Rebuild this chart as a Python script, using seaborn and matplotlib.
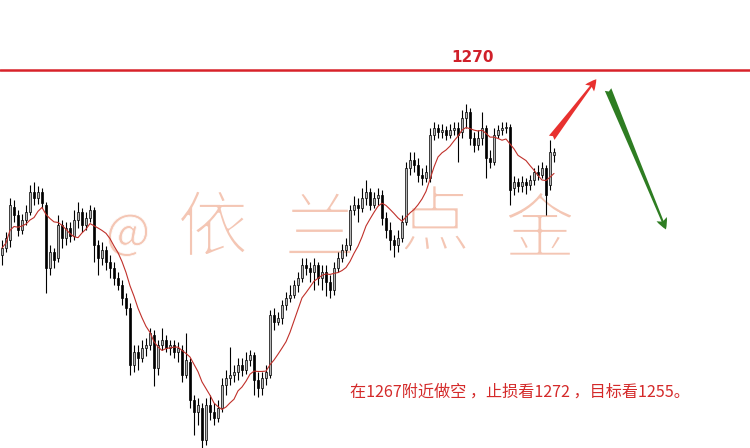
import numpy as np
import pandas as pd
import matplotlib
matplotlib.use('Agg')
import matplotlib.pyplot as plt
import matplotlib.patheffects as pe
import seaborn as sns

# candle data (price)
opens = [1251.5, 1252.2, 1253.0, 1256.3, 1255.5, 1254.0, 1255.0, 1255.8, 1257.8, 1257.2,
         1257.8, 1256.5, 1250.2, 1251.8, 1251.2, 1254.5, 1253.2, 1254.2, 1253.4, 1255.0,
         1255.8, 1254.5, 1255.2, 1256.0, 1252.5, 1251.2, 1252.0, 1250.8, 1250.2, 1249.2,
         1248.5, 1247.2, 1246.2, 1240.5, 1241.8, 1241.2, 1242.2, 1242.5, 1243.5, 1240.2,
         1242.5, 1243.0, 1242.2, 1242.5, 1241.8, 1242.0, 1239.5, 1240.8, 1237.0, 1235.8,
         1236.2, 1233.0, 1236.5, 1235.8, 1235.2, 1236.2, 1238.5, 1239.2, 1239.5, 1239.8,
         1240.5, 1240.0, 1241.0, 1241.5, 1239.0, 1238.2, 1239.2, 1239.5, 1245.5, 1244.8,
         1245.2, 1246.5, 1247.2, 1247.5, 1248.5, 1249.2, 1250.5, 1250.2, 1249.8, 1250.5,
         1249.2, 1249.8, 1248.8, 1248.0, 1250.2, 1251.2, 1252.0, 1252.5, 1256.0, 1256.5,
         1256.2, 1257.2, 1257.8, 1256.5, 1257.2, 1257.5, 1255.2, 1254.0, 1253.0, 1252.5,
         1253.2, 1254.8, 1260.2, 1261.0, 1260.5, 1259.5, 1259.2, 1259.2, 1263.5, 1264.2,
         1263.8, 1264.0, 1263.5, 1264.0, 1264.2, 1263.8, 1265.2, 1265.8, 1263.2, 1262.5,
         1263.2, 1264.2, 1261.2, 1260.8, 1263.5, 1264.0, 1264.2, 1264.3, 1258.2, 1258.8,
         1258.4, 1258.8, 1258.5, 1259.0, 1259.8, 1259.5, 1260.2, 1258.5, 1261.5]
highs = [1253.0, 1253.8, 1257.2, 1257.0, 1256.0, 1255.6, 1256.5, 1258.5, 1258.8, 1258.4,
         1258.2, 1256.8, 1252.5, 1252.2, 1255.5, 1255.0, 1254.8, 1254.8, 1256.0, 1256.8,
         1256.2, 1255.8, 1256.5, 1256.3, 1253.0, 1252.8, 1252.4, 1251.5, 1250.8, 1249.8,
         1249.0, 1247.7, 1246.7, 1242.5, 1242.5, 1243.0, 1243.2, 1244.2, 1244.0, 1243.0,
         1244.2, 1243.5, 1243.0, 1243.0, 1242.8, 1242.5, 1243.7, 1241.2, 1237.5, 1237.2,
         1236.7, 1237.2, 1237.5, 1236.7, 1237.0, 1239.2, 1240.0, 1242.3, 1240.5, 1241.2,
         1241.2, 1241.8, 1242.0, 1241.8, 1239.8, 1239.8, 1240.5, 1246.0, 1246.2, 1245.8,
         1247.0, 1247.8, 1248.5, 1249.0, 1249.8, 1251.2, 1251.2, 1250.8, 1251.2, 1250.8,
         1250.5, 1250.5, 1249.5, 1250.8, 1251.8, 1252.6, 1253.2, 1256.5, 1257.4, 1257.2,
         1258.2, 1259.0, 1258.2, 1257.8, 1258.2, 1258.0, 1255.8, 1254.8, 1253.5, 1254.0,
         1255.5, 1260.8, 1261.8, 1261.8, 1261.2, 1260.2, 1260.5, 1264.2, 1264.8, 1264.6,
         1264.6, 1264.4, 1264.6, 1264.8, 1264.8, 1266.0, 1266.6, 1266.2, 1263.8, 1264.0,
         1265.8, 1264.5, 1262.0, 1264.2, 1264.5, 1264.8, 1264.8, 1264.6, 1259.4, 1259.2,
         1259.4, 1259.2, 1259.5, 1260.2, 1260.5, 1260.8, 1260.5, 1263.0, 1262.2]
lows = [1250.5, 1251.8, 1252.3, 1254.8, 1253.4, 1253.6, 1254.5, 1255.5, 1256.5, 1256.6,
        1256.2, 1247.7, 1249.5, 1250.2, 1250.8, 1252.2, 1252.5, 1252.8, 1253.0, 1254.2,
        1253.8, 1254.0, 1254.8, 1250.8, 1249.5, 1250.5, 1250.0, 1249.2, 1248.5, 1248.0,
        1246.5, 1245.5, 1239.5, 1239.8, 1240.0, 1240.8, 1241.4, 1242.0, 1238.4, 1239.5,
        1242.0, 1241.8, 1241.5, 1241.2, 1240.8, 1238.8, 1239.2, 1236.2, 1233.5, 1234.5,
        1232.2, 1232.5, 1235.0, 1234.5, 1234.8, 1235.8, 1237.5, 1238.5, 1238.8, 1239.0,
        1239.4, 1239.6, 1240.4, 1237.5, 1237.3, 1237.5, 1238.5, 1239.2, 1244.0, 1244.5,
        1244.6, 1246.0, 1246.8, 1247.2, 1247.8, 1248.8, 1249.5, 1248.8, 1248.0, 1248.5,
        1248.0, 1247.4, 1247.2, 1247.5, 1249.8, 1250.8, 1251.4, 1252.0, 1255.5, 1254.8,
        1255.8, 1256.5, 1256.0, 1256.2, 1256.5, 1254.5, 1253.2, 1252.0, 1251.3, 1251.8,
        1252.8, 1254.5, 1259.5, 1259.8, 1258.8, 1258.5, 1258.8, 1258.8, 1263.0, 1263.2,
        1263.2, 1263.0, 1263.2, 1263.5, 1260.8, 1263.2, 1264.2, 1262.5, 1261.8, 1262.0,
        1262.5, 1259.2, 1260.2, 1260.5, 1263.2, 1263.5, 1263.7, 1256.5, 1257.5, 1257.8,
        1257.8, 1257.6, 1258.0, 1258.5, 1259.0, 1259.2, 1255.5, 1258.0, 1260.8]
closes = [1252.2, 1253.2, 1256.5, 1255.5, 1254.0, 1255.0, 1255.8, 1257.8, 1257.2, 1257.8,
          1256.7, 1250.2, 1251.8, 1251.0, 1254.5, 1253.2, 1254.2, 1253.4, 1255.0, 1255.8,
          1254.5, 1255.2, 1256.0, 1252.5, 1251.2, 1252.0, 1250.8, 1250.2, 1249.2, 1248.5,
          1247.2, 1246.2, 1240.5, 1241.8, 1241.2, 1242.2, 1242.5, 1243.7, 1240.2, 1242.5,
          1243.0, 1242.2, 1242.5, 1241.8, 1242.2, 1239.5, 1241.0, 1237.0, 1235.8, 1236.5,
          1233.0, 1236.5, 1235.8, 1235.2, 1236.2, 1238.5, 1239.2, 1239.5, 1239.8, 1240.5,
          1240.0, 1241.0, 1241.5, 1239.0, 1238.2, 1239.2, 1239.8, 1245.5, 1244.8, 1245.2,
          1246.5, 1247.2, 1247.5, 1248.5, 1249.2, 1250.5, 1250.2, 1249.8, 1250.5, 1249.2,
          1249.8, 1248.8, 1248.0, 1250.2, 1251.2, 1252.0, 1252.5, 1256.0, 1256.5, 1256.2,
          1257.2, 1257.8, 1256.5, 1257.2, 1257.5, 1255.2, 1254.0, 1253.0, 1252.5, 1253.2,
          1254.8, 1260.2, 1261.0, 1260.5, 1259.5, 1259.2, 1259.8, 1263.5, 1264.2, 1263.8,
          1264.0, 1263.5, 1264.0, 1264.2, 1263.5, 1265.2, 1265.8, 1263.2, 1262.5, 1263.2,
          1264.2, 1261.2, 1260.8, 1263.5, 1264.0, 1264.2, 1264.3, 1258.0, 1258.8, 1258.4,
          1258.8, 1258.5, 1259.0, 1259.8, 1259.5, 1260.2, 1257.5, 1261.8, 1261.8]

level = 1270
level_label = '1270'
watermark = ['@', '依', '兰', '点', '金']
note = '在1267附近做空 ，止损看1272 ，目标看1255。'

df = pd.DataFrame({'open': opens, 'high': highs, 'low': lows, 'close': closes})
df['idx'] = np.arange(len(df))
df['ma'] = df['close'].rolling(9, min_periods=1).mean()

sns.set_style('white')
plt.rcParams['font.family'] = ['Noto Sans CJK SC', 'DejaVu Sans']

fig = plt.figure(figsize=(7.5, 4.48), dpi=100)
ax = fig.add_axes([0, 0, 1, 1])

# watermark, thinned with a white stroke on top
wm_x = [128, 213, 320, 435, 540]
wm_y = [235, 230, 232, 225, 232]
wm_size = [34, 52, 52, 52, 52]
wm_thin = [0.6, 2.2, 2.2, 2.2, 2.2]
for ch, px, py, fs, th in zip(watermark, wm_x, wm_y, wm_size, wm_thin):
    ax.text(px / 750, 1 - py / 448, ch, transform=ax.transAxes, fontsize=fs,
            color='#f4c6b4', ha='center', va='center', zorder=0,
            path_effects=[pe.Normal(), pe.Stroke(linewidth=th, foreground='white')])

# candles
up = df['close'] >= df['open']
ax.vlines(df['idx'], df['low'], df['high'], color='black', lw=0.8, zorder=2)
body = (df['close'] - df['open']).abs().clip(lower=0.08)
bottom = df[['open', 'close']].min(axis=1)
ax.bar(df['idx'][up], body[up], bottom=bottom[up], width=0.62,
       color='#b8b8b8', edgecolor='black', linewidth=0.5, zorder=3)
ax.bar(df['idx'][~up], body[~up], bottom=bottom[~up], width=0.62,
       color='black', edgecolor='black', linewidth=0.5, zorder=3)

# moving average
sns.lineplot(data=df, x='idx', y='ma', color='#c0302a', lw=0.8, ax=ax, zorder=4)

# resistance line
ax.axhline(level, color='#d8232a', lw=1.8, zorder=5)
ax.text(117.75, 1271.3, level_label, color='#d0202a', fontsize=11, fontweight='bold',
        family='DejaVu Sans', ha='center', va='center')

# arrows
ax.annotate('', xy=(149.0, 1269.3), xytext=(137.0, 1263.0),
            arrowprops=dict(arrowstyle='fancy,head_length=0.8,head_width=0.8,tail_width=0.5',
                            color='#e8312f', lw=0), zorder=6)
ax.annotate('', xy=(166.25, 1253.8), xytext=(151.25, 1268.3),
            arrowprops=dict(arrowstyle='fancy,head_length=0.8,head_width=0.8,tail_width=0.5',
                            color='#2e7d22', lw=0), zorder=6)

ax.text(87, 1237.8, note, color='#d42a2a', fontsize=11.6, ha='left', va='center')

ax.set_xlim(-0.5, 187)
ax.set_ylim(1232.2, 1277)
ax.axis('off')
fig.savefig('out.png', dpi=100, facecolor='white')
